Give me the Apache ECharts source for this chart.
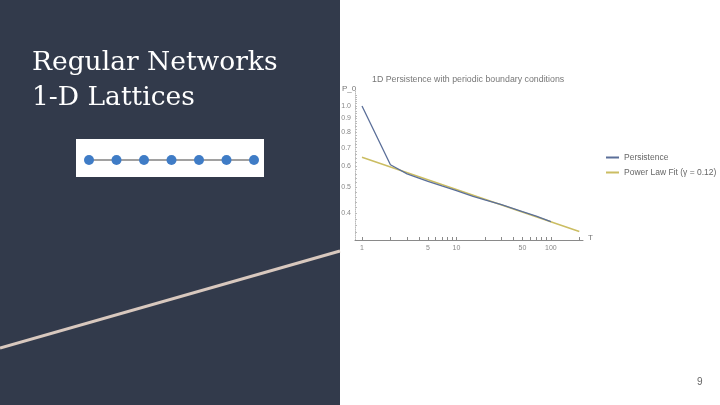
<!DOCTYPE html>
<html lang="en">
<head>
    <meta charset="UTF-8">
    <title>Regular Networks</title>
    <script src="https://cdn.jsdelivr.net/npm/echarts@6/dist/echarts.min.js"></script>
    <style>
        body { margin: 0; }
    </style>
</head>
<body>
    <div id="main" style="width: 720px; height: 405px"></div>
    <script>
        // persistence curve
        var persistT = [1, 2, 3, 4, 5, 7, 10, 15, 20, 30, 50, 70, 100];
        var persistP = [1.0, 0.605, 0.56, 0.54, 0.525, 0.505, 0.485, 0.462, 0.448, 0.43, 0.405, 0.39, 0.372];
        // power law fit line (gamma = 0.12), end points
        var fitT = [1, 200];
        var fitP = [0.645, 0.342];
        // tick labels
        var xLabels = [1, 5, 10, 50, 100];
        var yLabels = [0.4, 0.5, 0.6, 0.7, 0.8, 0.9, 1.0];
        var xMinor = [1, 2, 3, 4, 5, 6, 7, 8, 9, 10, 20, 30, 40, 50, 60, 70, 80, 90, 100, 200];
        var yMinor = [0.34, 0.36, 0.38, 0.4, 0.42, 0.44, 0.46, 0.48, 0.5, 0.52, 0.54, 0.56, 0.58, 0.6,
            0.62, 0.64, 0.66, 0.68, 0.7, 0.72, 0.74, 0.76, 0.78, 0.8, 0.82, 0.84, 0.86, 0.88, 0.9,
            0.92, 0.94, 0.96, 0.98, 1.0, 1.02, 1.04, 1.06, 1.08, 1.1];
        // the 1-D lattice nodes
        var latticeNodes = [0, 1, 2, 3, 4, 5, 6];

        function pairs(xs, ys) {
            var res = [];
            for (var i = 0; i < xs.length; i++) res.push([xs[i], ys[i]]);
            return res;
        }

        var navy = '#323a4b';
        var axisGray = '#8a8a8a';

        echarts.init(document.getElementById('main')).setOption({
            backgroundColor: '#ffffff',
            animation: false,
            graphic: [
                { type: 'rect', shape: { x: 0, y: 0, width: 340, height: 405 }, style: { fill: navy }, z: -10 },
                { type: 'line', shape: { x1: 0, y1: 348, x2: 340, y2: 251 },
                  style: { stroke: '#d8c8be', lineWidth: 3 }, z: -5 },
                { type: 'rect', shape: { x: 76, y: 139, width: 188, height: 38 }, style: { fill: '#ffffff' }, z: -5 },
                { type: 'text', left: 32, top: 46, style: {
                    text: 'Regular Networks\n1-D Lattices', fill: '#ffffff',
                    font: '26.5px "DejaVu Serif"', lineHeight: 35 } },
                { type: 'text', left: 697, top: 377, style: { text: '9', fill: '#666', font: '10px "Liberation Sans"' } },
                { type: 'text', left: 372, top: 75, style: {
                    text: '1D Persistence with periodic boundary conditions', fill: '#777',
                    font: '8.8px "Liberation Sans"' } },
                { type: 'text', left: 342, top: 85, style: { text: 'P_0', fill: '#777', font: '8px "Liberation Sans"' } },
                { type: 'text', left: 588, top: 234, style: { text: 'T', fill: '#777', font: '8px "Liberation Sans"' } }
            ],
            legend: {
                left: 601, top: 148, orient: 'vertical', itemWidth: 13, itemHeight: 2, itemGap: 6,
                icon: 'rect',
                textStyle: { fontSize: 8.5, color: '#666', fontFamily: 'Liberation Sans' },
                data: ['Persistence', 'Power Law Fit (\u03b3 = 0.12)']
            },
            grid: [
                { left: 355, top: 90, width: 228, height: 150 },
                { left: 89, top: 150, width: 165, height: 20 }
            ],
            xAxis: [{
                type: 'log', gridIndex: 0, min: 0.843, max: 219,
                axisLine: { lineStyle: { color: axisGray } },
                axisTick: { customValues: xMinor, length: 3, inside: true, lineStyle: { color: axisGray } },
                axisLabel: { customValues: xLabels, fontSize: 7, color: '#888', margin: 5,
                    fontFamily: 'Liberation Sans' },
                splitLine: { show: false }
            }, {
                type: 'value', gridIndex: 1, min: 0, max: 6, show: false
            }],
            yAxis: [{
                type: 'log', gridIndex: 0, min: 0.318, max: 1.147,
                axisLine: { show: true, lineStyle: { color: '#bbb', type: 'dotted' } },
                axisTick: { customValues: yMinor, length: 2, inside: true, lineStyle: { color: '#bbb' } },
                axisLabel: { customValues: yLabels, fontSize: 7, color: '#888', margin: 4,
                    fontFamily: 'Liberation Sans',
                    formatter: function (v) { return v.toFixed(1); } },
                splitLine: { show: false }
            }, {
                type: 'value', gridIndex: 1, min: -1, max: 1, show: false
            }],
            series: [{
                name: 'Persistence', type: 'line', xAxisIndex: 0, yAxisIndex: 0,
                data: pairs(persistT, persistP), symbol: 'none',
                lineStyle: { color: '#5b6f99', width: 1.3 }, itemStyle: { color: '#5b6f99' }
            }, {
                name: 'Power Law Fit (\u03b3 = 0.12)', type: 'line', xAxisIndex: 0, yAxisIndex: 0,
                data: pairs(fitT, fitP), symbol: 'none', z: 1,
                lineStyle: { color: '#cbbd62', width: 1.5 }, itemStyle: { color: '#cbbd62' }
            }, {
                type: 'line', xAxisIndex: 1, yAxisIndex: 1,
                data: latticeNodes.map(function (n) { return [n, 0]; }),
                symbol: 'circle', symbolSize: 10,
                lineStyle: { color: '#444', width: 1.2 },
                itemStyle: { color: '#3f7cc6' }
            }]
        });
    </script>
</body>
</html>
